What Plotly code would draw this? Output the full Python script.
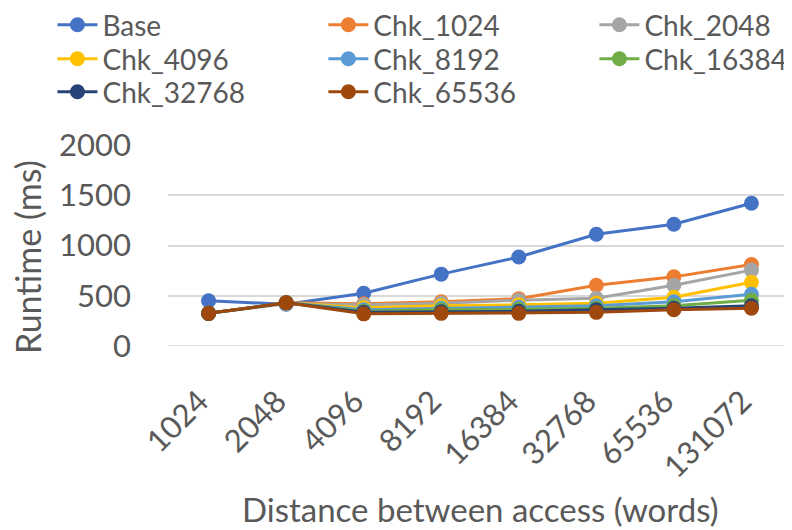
import plotly.graph_objects as go

categories = ["1024", "2048", "4096", "8192", "16384", "32768", "65536", "131072"]
series_names = ["Base", "Chk_1024", "Chk_2048", "Chk_4096", "Chk_8192", "Chk_16384", "Chk_32768", "Chk_65536"]
base = [450, 415, 525, 715, 885, 1112, 1212, 1420]
chk_1024 = [325, 430, 420, 440, 470, 605, 688, 810]
chk_2048 = [325, 420, 410, 425, 455, 475, 605, 755]
chk_4096 = [325, 430, 380, 400, 410, 425, 485, 635]
chk_8192 = [325, 430, 360, 375, 385, 400, 440, 515]
chk_16384 = [325, 430, 345, 360, 365, 375, 400, 455]
chk_32768 = [325, 430, 335, 340, 345, 360, 375, 400]
chk_65536 = [325, 430, 320, 325, 325, 335, 360, 375]
colors = ["#4472C4", "#ED7D31", "#A5A5A5", "#FFC000", "#5B9BD5", "#70AD47", "#264478", "#9E480E"]
x_title = "Distance between access (words)"
y_title = "Runtime (ms)"

all_values = [base, chk_1024, chk_2048, chk_4096, chk_8192, chk_16384, chk_32768, chk_65536]

# legend grid: 3 columns x 3 rows
col_x = [0.0561, 0.3982, 0.7404]
row_y = [0.9679, 0.9038, 0.8415]

font_family = "Lato, Open Sans, sans-serif"
txt = "#595959"

fig = go.Figure()
legend_layout = {}
for i, (name, vals, c) in enumerate(zip(series_names, all_values, colors)):
    lid = "legend" if i == 0 else f"legend{i + 1}"
    fig.add_trace(go.Scatter(
        x=categories, y=vals, name=name, mode="lines+markers",
        line=dict(color=c, width=3),
        marker=dict(color=c, size=15),
        legend=lid,
    ))
    legend_layout[lid] = dict(
        orientation="v", xref="container", yref="container",
        x=col_x[i % 3], y=row_y[i // 3],
        xanchor="left", yanchor="middle", font=dict(size=28, color=txt),
        itemwidth=40, bgcolor="rgba(0,0,0,0)",
    )

fig.update_layout(
    width=792, height=530,
    paper_bgcolor="white", plot_bgcolor="white",
    margin=dict(l=160, r=8, t=137, b=192, autoexpand=False),
    font=dict(family=font_family, color=txt, size=31),
    showlegend=True,
    xaxis=dict(
        type="category", tickangle=-45, showgrid=False,
        showline=False, ticks="", automargin=False,
        tickfont=dict(size=31), ticklabelstandoff=30, ticklabelshift=-9,
    ),
    yaxis=dict(
        range=[0, 2000], dtick=500, showgrid=True, gridcolor="#D9D9D9", gridwidth=1.5,
        zeroline=False, showline=False, ticks="", automargin=False,
        tickfont=dict(size=31), ticklabelstandoff=36,
    ),
    annotations=[
        dict(text=x_title, xref="paper", yref="paper", x=0.5, y=-0.811,
             xanchor="center", yanchor="middle", showarrow=False,
             font=dict(size=33, color=txt)),
        dict(text=y_title, xref="paper", yref="paper", x=-0.2244, y=0.4428,
             xanchor="center", yanchor="middle", showarrow=False, textangle=-90,
             font=dict(size=34, color=txt)),
    ],
    **legend_layout,
)
fig.add_shape(type="line", xref="paper", yref="y", x0=0, x1=1, y0=0, y1=0,
              line=dict(color="#D9D9D9", width=1.5), layer="below")

fig.write_html("out.html")
